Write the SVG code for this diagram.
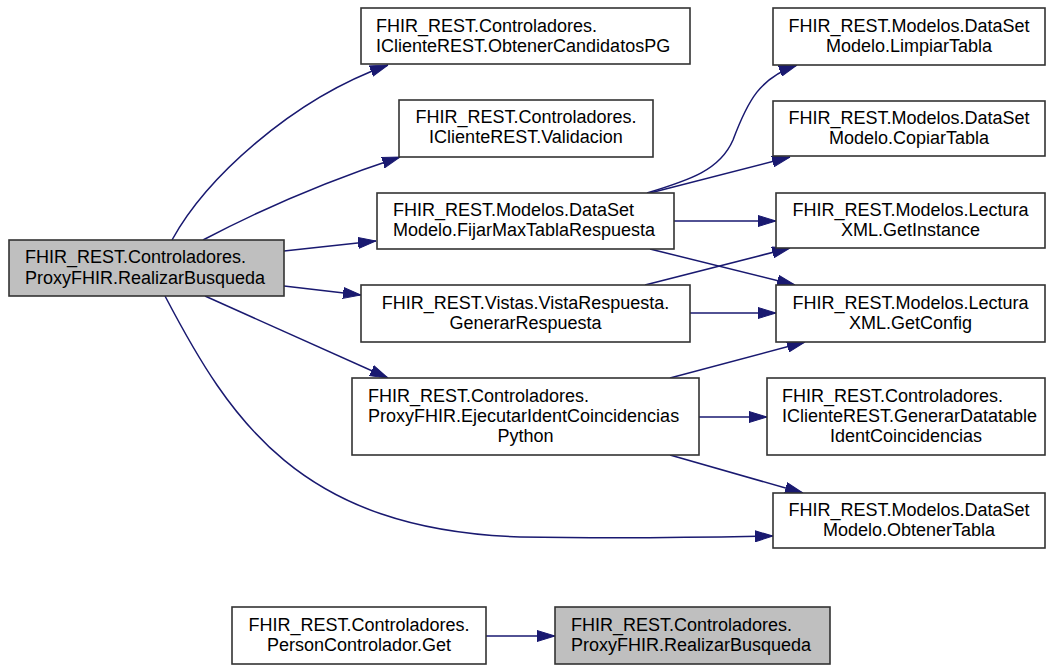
<svg xmlns="http://www.w3.org/2000/svg" width="1047" height="666" viewBox="0 0 1047 666">
  <style>
    .box { fill: #ffffff; stroke: #333333; stroke-width: 1.6; }
    .cur { fill: #bfbfbf; stroke: #333333; stroke-width: 1.6; }
    text { font-family: "Liberation Sans", Arial, sans-serif; font-size: 18px; fill: #000000; }
    .c { text-anchor: middle; }
    .edge { fill: none; stroke: #191970; stroke-width: 1.5; marker-end: url(#ah); }
  </style>
  <defs>
    <marker id="ah" markerWidth="18" markerHeight="12" refX="18" refY="6" orient="auto" markerUnits="userSpaceOnUse">
      <path d="M0,0.5 L18,6 L0,11.5 z" fill="#191970" stroke="#191970" stroke-width="1"/>
    </marker>
  </defs>
  <rect width="1047" height="666" fill="#ffffff"/>

  <g id="connectors">
    <path class="edge" d="M172,240 C205,180 290,100 388,65"/>
    <path class="edge" d="M203,240 C260,210 330,180 400,157"/>
    <path class="edge" d="M284,251 L376,241"/>
    <path class="edge" d="M284,286 L361,295"/>
    <path class="edge" d="M205,296 C270,325 330,352 388,378"/>
    <path class="edge" d="M165,296 C230,420 300,530 520,537 C640,539 720,537 773,536"/>
    <path class="edge" d="M647,193 C690,180 720,170 733,140 C748,100 760,78 797,65"/>
    <path class="edge" d="M650,193 L790,157"/>
    <path class="edge" d="M674,221 L776,221"/>
    <path class="edge" d="M650,249 L795,285"/>
    <path class="edge" d="M645,285 L790,248"/>
    <path class="edge" d="M690,313 L776,313"/>
    <path class="edge" d="M670,378 L805,342"/>
    <path class="edge" d="M699,417 L767,417"/>
    <path class="edge" d="M670,455 L803,493"/>
    <path class="edge" d="M486,636 L555,636"/>
  </g>

  <g id="node-realizar">
    <rect class="cur" x="9" y="240" width="275" height="56"/>
    <text x="25" y="263">FHIR_REST.Controladores.</text>
    <text x="25" y="284">ProxyFHIR.RealizarBusqueda</text>
  </g>

  <g id="node-obtenercandidatos">
    <rect class="box" x="361" y="8" width="329" height="56"/>
    <text x="376" y="32">FHIR_REST.Controladores.</text>
    <text x="376" y="52">IClienteREST.ObtenerCandidatosPG</text>
  </g>

  <g id="node-validacion">
    <rect class="box" x="399" y="100" width="254" height="57"/>
    <text class="c" x="526" y="123">FHIR_REST.Controladores.</text>
    <text class="c" x="526" y="143">IClienteREST.Validacion</text>
  </g>

  <g id="node-fijarmax">
    <rect class="box" x="377" y="193" width="297" height="56"/>
    <text x="393" y="216">FHIR_REST.Modelos.DataSet</text>
    <text x="393" y="236">Modelo.FijarMaxTablaRespuesta</text>
  </g>

  <g id="node-generarrespuesta">
    <rect class="box" x="361" y="285" width="329" height="57"/>
    <text class="c" x="525.5" y="309">FHIR_REST.Vistas.VistaRespuesta.</text>
    <text class="c" x="525.5" y="329">GenerarRespuesta</text>
  </g>

  <g id="node-ejecutarident">
    <rect class="box" x="352" y="378" width="347" height="77"/>
    <text x="368" y="402">FHIR_REST.Controladores.</text>
    <text x="368" y="422">ProxyFHIR.EjecutarIdentCoincidencias</text>
    <text class="c" x="525.5" y="442">Python</text>
  </g>

  <g id="node-limpiartabla">
    <rect class="box" x="773" y="8" width="272" height="57"/>
    <text class="c" x="909" y="32">FHIR_REST.Modelos.DataSet</text>
    <text class="c" x="909" y="52">Modelo.LimpiarTabla</text>
  </g>

  <g id="node-copiartabla">
    <rect class="box" x="773" y="101" width="272" height="55"/>
    <text class="c" x="909" y="124">FHIR_REST.Modelos.DataSet</text>
    <text class="c" x="909" y="144">Modelo.CopiarTabla</text>
  </g>

  <g id="node-getinstance">
    <rect class="box" x="776" y="193" width="269" height="55"/>
    <text class="c" x="910.5" y="216">FHIR_REST.Modelos.Lectura</text>
    <text class="c" x="910.5" y="236">XML.GetInstance</text>
  </g>

  <g id="node-getconfig">
    <rect class="box" x="776" y="285" width="269" height="57"/>
    <text class="c" x="910.5" y="309">FHIR_REST.Modelos.Lectura</text>
    <text class="c" x="910.5" y="329">XML.GetConfig</text>
  </g>

  <g id="node-generardatatable">
    <rect class="box" x="767" y="378" width="278" height="77"/>
    <text x="782" y="402">FHIR_REST.Controladores.</text>
    <text x="782" y="422">IClienteREST.GenerarDatatable</text>
    <text class="c" x="906" y="442">IdentCoincidencias</text>
  </g>

  <g id="node-obtenertabla">
    <rect class="box" x="773" y="493" width="272" height="55"/>
    <text class="c" x="909" y="516">FHIR_REST.Modelos.DataSet</text>
    <text class="c" x="909" y="536">Modelo.ObtenerTabla</text>
  </g>

  <g id="node-personget">
    <rect class="box" x="232" y="607" width="254" height="57"/>
    <text class="c" x="359" y="631">FHIR_REST.Controladores.</text>
    <text class="c" x="359" y="651">PersonControlador.Get</text>
  </g>

  <g id="node-realizar-caller">
    <rect class="cur" x="555" y="607" width="275" height="57"/>
    <text x="571" y="631">FHIR_REST.Controladores.</text>
    <text x="571" y="651">ProxyFHIR.RealizarBusqueda</text>
  </g>
</svg>
